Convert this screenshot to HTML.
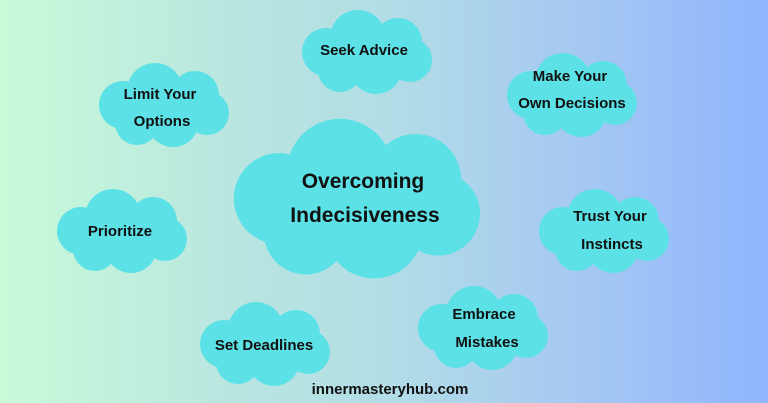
<!DOCTYPE html>
<html><head><meta charset="utf-8"><style>
html,body{margin:0;padding:0}
body{width:768px;height:403px;overflow:hidden;background:linear-gradient(90deg,#c8fbd9 0%,#b9e6e0 30%,#b2dde6 50%,#a6c9f2 75%,#90b5fd 100%)}
svg{display:block}
text{font-family:"Liberation Sans",sans-serif;fill:#111;text-anchor:middle;font-weight:bold}
</style></head><body>
<svg width="768" height="403" viewBox="0 0 768 403">
<defs>
<g id="c" fill="#5ce1e6">
<ellipse cx="66" cy="45" rx="50" ry="28"/>
<circle cx="58" cy="30" r="28"/>
<circle cx="98" cy="34" r="24"/>
<circle cx="110" cy="52" r="22"/>
<circle cx="76" cy="60" r="26"/>
<circle cx="40" cy="62" r="22"/>
<circle cx="26" cy="44" r="24"/>
</g>
</defs>
<use href="#c" transform="translate(230,115) scale(1.894,1.9)"/>
<use href="#c" transform="translate(300,8)"/>
<use href="#c" transform="translate(97,61)"/>
<use href="#c" transform="translate(505,51)"/>
<use href="#c" transform="translate(55,187)"/>
<use href="#c" transform="translate(537,187)"/>
<use href="#c" transform="translate(198,300)"/>
<use href="#c" transform="translate(416,284)"/>
<g font-size="21">
<text x="363" y="188">Overcoming</text>
<text x="365" y="222">Indecisiveness</text>
</g>
<g font-size="15">
<text x="364" y="55">Seek Advice</text>
<text x="160" y="99">Limit Your</text>
<text x="162" y="126">Options</text>
<text x="570" y="81">Make Your</text>
<text x="572" y="108">Own Decisions</text>
<text x="120" y="236">Prioritize</text>
<text x="610" y="221">Trust Your</text>
<text x="612" y="249">Instincts</text>
<text x="264" y="350">Set Deadlines</text>
<text x="484" y="319">Embrace</text>
<text x="487" y="347">Mistakes</text>
<text x="390" y="394">innermasteryhub.com</text>
</g>
</svg>
</body></html>
